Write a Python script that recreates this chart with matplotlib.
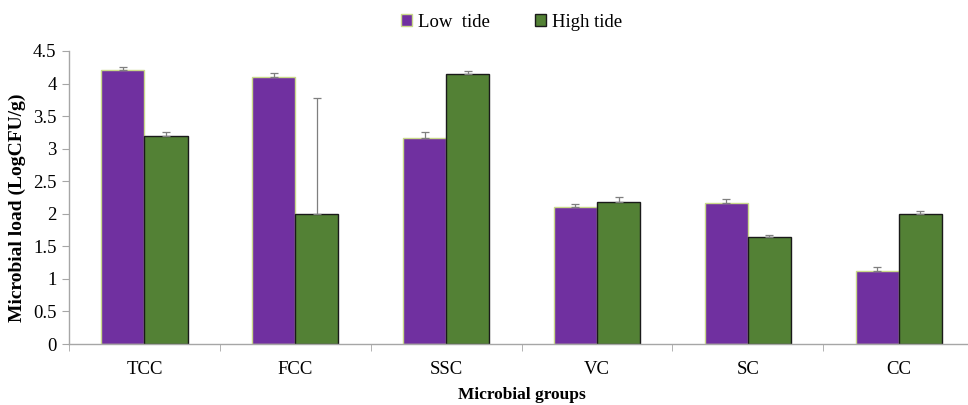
import matplotlib.pyplot as plt
import numpy as np

plt.rcParams['font.family'] = ['Liberation Serif', 'DejaVu Serif']

groups = ["TCC", "FCC", "SSC", "VC", "SC", "CC"]
low_tide = [4.21, 4.10, 3.17, 2.10, 2.16, 1.12]
low_err = [0.04, 0.06, 0.08, 0.05, 0.07, 0.06]
high_tide = [3.20, 2.00, 4.14, 2.18, 1.64, 2.00]
high_err = [0.05, 1.78, 0.05, 0.08, 0.03, 0.04]
yticks = [0, 0.5, 1, 1.5, 2, 2.5, 3, 3.5, 4, 4.5]

fig = plt.figure(figsize=(9.68, 4.05), dpi=100)
ax = fig.add_axes([0.0713, 0.1506, 0.935, 0.7235])

x = np.arange(len(groups))
w = 0.286
ekw = dict(ecolor="#7f7f7f", elinewidth=0.9, capsize=3, capthick=0.9)
ax.bar(x - w / 2, low_tide, w, yerr=[np.zeros(6), low_err], color="#7030a0",
       edgecolor="#c9d98a", linewidth=1.0, error_kw=ekw, label="Low  tide")
ax.bar(x + w / 2, high_tide, w, yerr=[np.zeros(6), high_err], color="#538135",
       edgecolor="#1a1a1a", linewidth=1.0, error_kw=ekw, label="High tide")

ax.set_xlim(-0.5, len(groups) - 0.5)
ax.set_ylim(0, 4.5)
ax.set_yticks(yticks)
ax.set_yticklabels([f"{v:g}" for v in yticks], fontsize=13.5)
ax.set_xticks(x)
ax.set_xticklabels(groups, fontsize=13.5)
ax.tick_params(axis="x", which="major", length=0, pad=12)
ax.set_xticks(np.arange(-0.5, len(groups), 1.0), minor=True)
ax.tick_params(axis="x", which="minor", length=5, color="#a6a6a6", direction="out")
ax.tick_params(axis="y", length=5, color="#a6a6a6", direction="out", pad=4)

for side in ["top", "right"]:
    ax.spines[side].set_visible(False)
for side in ["left", "bottom"]:
    ax.spines[side].set_color("#a6a6a6")
    ax.spines[side].set_linewidth(1.0)

ax.set_xlabel("Microbial groups", fontsize=12.5, fontweight="bold", labelpad=7)
ax.set_ylabel("Microbial load (LogCFU/g)", fontsize=14, fontweight="bold")
ax.yaxis.set_label_coords(-0.047, 0.464)

ax.legend(loc="upper center", bbox_to_anchor=(0.489, 1.185), ncol=2, frameon=False,
          fontsize=13.5, handlelength=0.6, handleheight=0.6, handletextpad=0.3,
          columnspacing=2.4)

fig.savefig("out.png", dpi=100)
